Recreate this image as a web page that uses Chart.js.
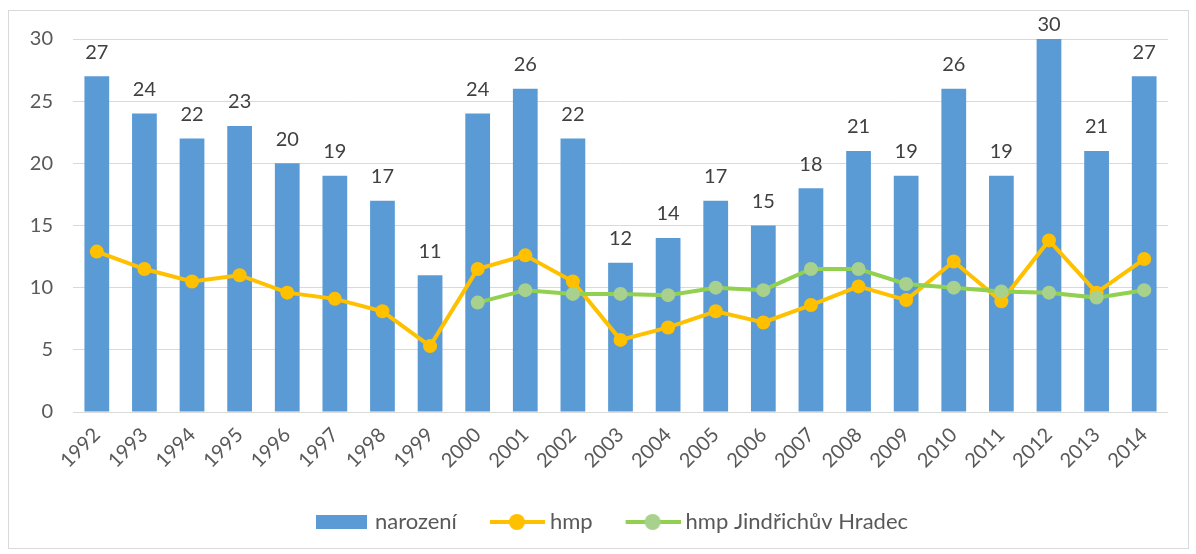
<!DOCTYPE html>
<html>
<head>
<meta charset="utf-8">
<script src="https://cdn.jsdelivr.net/npm/chart.js@4/dist/chart.umd.min.js"></script>
<style>
  body { margin: 0; background: #fff; }
  #wrap { position: absolute; left: 0; top: 0; width: 1196px; height: 554px; }
  #frame { position: absolute; left: 8px; top: 10px; width: 1179px; height: 537px; border: 1px solid #d9d9d9; pointer-events: none; }
</style>
</head>
<body>
<div id="wrap"><canvas id="myChart" width="1196" height="554"></canvas></div>
<div id="frame"></div>
<script>
const roky = ['1992', '1993', '1994', '1995', '1996', '1997', '1998', '1999', '2000', '2001', '2002', '2003',
    '2004', '2005', '2006', '2007', '2008', '2009', '2010', '2011', '2012', '2013', '2014'];
const narozeni = [27, 24, 22, 23, 20, 19, 17, 11, 24, 26, 22, 12, 14, 17, 15, 18, 21, 19, 26, 19, 30, 21, 27];
const hmp = [12.9, 11.5, 10.5, 11.0, 9.6, 9.1, 8.1, 5.3, 11.5, 12.6, 10.5, 5.8, 6.8, 8.1, 7.2, 8.6, 10.1, 9.0, 12.1, 8.9, 13.8, 9.6, 12.3];
const hmpJH = [null, null, null, null, null, null, null, null, 8.8, 9.8, 9.5, 9.5, 9.4, 10.0, 9.8, 11.5, 11.5, 10.3, 10.0, 9.7, 9.6, 9.2, 9.8];
const yTicks = [0, 5, 10, 15, 20, 25, 30];

// legend symbols like in Excel
function legendIcon(type, color, fill) {
    const c = document.createElement('canvas');
    c.width = 56; c.height = 18;
    const g = c.getContext('2d');
    if (type == 'bar') {
        g.fillStyle = color;
        g.fillRect(2, 2, 51, 14);
    } else {
        g.strokeStyle = color;
        g.lineWidth = 4;
        g.beginPath(); g.moveTo(1, 9); g.lineTo(56, 9); g.stroke();
        g.fillStyle = fill;
        g.beginPath(); g.arc(28, 9, 8, 0, Math.PI * 2); g.fill();
    }
    return c;
}
const icons = [
    legendIcon('bar', '#5b9bd5'),
    legendIcon('line', '#ffc000', '#ffc000'),
    legendIcon('line', '#92d050', '#a9d18e')
];

// values above the bars
const barLabels = {
    id: 'barLabels',
    afterDatasetsDraw(chart) {
        const ctx = chart.ctx;
        const meta = chart.getDatasetMeta(2);
        ctx.save();
        ctx.font = '20px Lato';
        ctx.fillStyle = '#404040';
        ctx.textAlign = 'center';
        ctx.textBaseline = 'middle';
        meta.data.forEach((bar, i) => {
            const y = Math.max(bar.y - 24, 25);
            ctx.fillText(narozeni[i], bar.x, y);
        });
        ctx.restore();
    }
};

// legend sits a bit right of the plot centre and closer to the axis
const moveLegend = {
    id: 'moveLegend',
    afterLayout(chart) {
        chart.legend.left += 60;
        chart.legend.top -= 11;
    }
};

const ctx = document.getElementById('myChart').getContext('2d');
const myChart = new Chart(ctx, {
    data: {
        labels: roky,
        datasets: [{
            type: 'line',
            label: 'hmp',
            data: hmp,
            borderColor: '#ffc000',
            backgroundColor: '#ffc000',
            borderWidth: 4,
            pointRadius: 7,
            pointBorderWidth: 0,
            order: 1
        }, {
            type: 'line',
            label: 'hmp Jindřichův Hradec',
            data: hmpJH,
            borderColor: '#92d050',
            backgroundColor: '#a9d18e',
            pointBackgroundColor: '#a9d18e',
            borderWidth: 4,
            pointRadius: 7,
            pointBorderWidth: 0,
            order: 0
        }, {
            type: 'bar',
            label: 'narození',
            data: narozeni,
            backgroundColor: '#5b9bd5',
            barPercentage: 0.52,
            categoryPercentage: 1,
            order: 2
        }]
    },
    options: {
        responsive: false,
        animation: false,
        layout: { padding: { top: 39, right: 28, bottom: 0, left: 0 } },
        plugins: {
            tooltip: { enabled: false },
            legend: {
                position: 'bottom',
                labels: {
                    font: { family: 'Lato', size: 22 },
                    color: '#595959',
                    padding: 38,
                    usePointStyle: true,
                    pointStyleWidth: 44,
                    generateLabels(chart) {
                        const names = ['narození', 'hmp', 'hmp Jindřichův Hradec'];
                        return names.map((n, i) => ({
                            text: n,
                            pointStyle: icons[i],
                            fontColor: '#595959',
                            lineWidth: 0,
                            hidden: false,
                            datasetIndex: i
                        }));
                    }
                }
            }
        },
        scales: {
            x: {
                grid: { display: false },
                border: { display: false },
                ticks: {
                    font: { family: 'Lato', size: 20 },
                    color: '#595959',
                    maxRotation: 45,
                    minRotation: 45
                },
                afterFit(scale) { scale.height = 72; }
            },
            y: {
                min: 0,
                max: 30,
                afterBuildTicks(scale) { scale.ticks = yTicks.map(v => ({ value: v })); },
                grid: { color: '#d9d9d9', lineWidth: 1, drawTicks: false },
                border: { display: false },
                ticks: {
                    font: { family: 'Lato', size: 20 },
                    color: '#595959',
                    padding: 20
                },
                afterFit(scale) { scale.width = 73; }
            }
        }
    },
    plugins: [barLabels, moveLegend]
});
</script>
</body>
</html>
